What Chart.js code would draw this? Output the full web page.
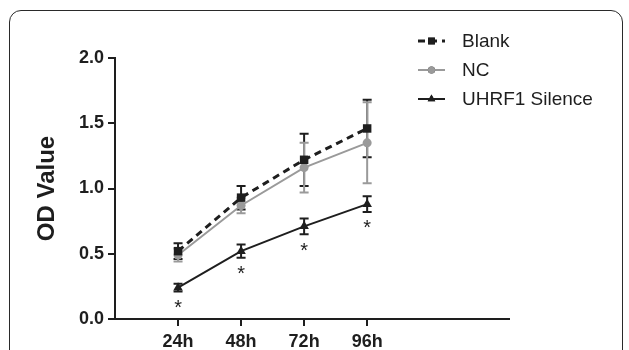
<!DOCTYPE html>
<html>
<head>
<meta charset="utf-8">
<script src="https://cdn.jsdelivr.net/npm/chart.js@4/dist/chart.umd.min.js"></script>
<style>
  html, body { margin: 0; padding: 0; background: #fff; overflow: hidden; }
  #wrap { position: relative; width: 629px; height: 350px; }
  #frame {
    position: absolute; left: 9px; top: 10px; width: 614px; height: 420px;
    border: 1.5px solid #2a2a2a; border-radius: 12px; box-sizing: border-box;
  }
  canvas { position: absolute; left: 0; top: 0; }
</style>
</head>
<body>
<div id="wrap">
  <div id="frame"></div>
  <canvas id="odChart" width="629" height="350"></canvas>
</div>
<script>
const hours = [24, 48, 72, 96];
const hourLabels = ["24h", "48h", "72h", "96h"];
const yTicks = [0, 0.5, 1.0, 1.5, 2.0];

const blankVals = [0.52, 0.93, 1.22, 1.46];
const blankErr = [0.06, 0.09, 0.20, 0.22];
const ncVals = [0.49, 0.87, 1.16, 1.35];
const ncErr = [0.05, 0.06, 0.19, 0.31];
const uhrf1Vals = [0.24, 0.52, 0.71, 0.88];
const uhrf1Err = [0.03, 0.05, 0.06, 0.06];
const uhrf1Sig = ["*", "*", "*", "*"];

const FONT = '"Liberation Sans", Arial, Helvetica, sans-serif';
const GRAY = "#9a9a9a";
const INK = "#1e1e1e";

function toPoints(vals) {
    return vals.map((v, i) => ({ x: hours[i], y: v }));
}

// error bars + significance stars, drawn from the scales
const errorBarPlugin = {
    id: "errorBars",
    beforeDatasetsDraw(chart) {
        const { ctx, scales: { x, y } } = chart;
        chart.data.datasets.forEach((ds) => {
            if (!ds.errors) return;
            ctx.save();
            ctx.strokeStyle = ds.errColor;
            ctx.lineWidth = 2;
            ds.data.forEach((p, i) => {
                const px = x.getPixelForValue(p.x);
                const top = y.getPixelForValue(p.y + ds.errors[i]);
                const bot = y.getPixelForValue(p.y - ds.errors[i]);
                ctx.beginPath();
                ctx.moveTo(px, top); ctx.lineTo(px, bot);
                ctx.moveTo(px - 4.5, top); ctx.lineTo(px + 4.5, top);
                ctx.moveTo(px - 4.5, bot); ctx.lineTo(px + 4.5, bot);
                ctx.stroke();
            });
            ctx.restore();
        });
    },
    afterDatasetsDraw(chart) {
        const { ctx, scales: { x, y } } = chart;
        const ds = chart.data.datasets[2];
        ctx.save();
        ctx.fillStyle = INK;
        ctx.font = "20px " + FONT;
        ctx.textAlign = "center";
        ctx.textBaseline = "alphabetic";
        ds.data.forEach((p, i) => {
            const px = x.getPixelForValue(p.x);
            const bot = y.getPixelForValue(p.y - ds.errors[i]);
            ctx.fillText(uhrf1Sig[i], px, bot + 11 + 11.5);
        });
        ctx.restore();
    },
    afterDraw(chart) {
        const { ctx } = chart;
        const x0 = 418, x1 = 445, tx = 462;
        const rowsY = [41, 70, 99];
        ctx.save();
        chart.data.datasets.forEach((ds, i) => {
            const cy = rowsY[i];
            ctx.strokeStyle = ds.borderColor;
            ctx.lineWidth = ds.borderWidth;
            ctx.setLineDash(ds.borderDash || []);
            ctx.beginPath();
            ctx.moveTo(x0, cy); ctx.lineTo(x1, cy);
            ctx.stroke();
            ctx.setLineDash([]);
            Chart.helpers.drawPoint(ctx, {
                pointStyle: ds.pointStyle, rotation: 0, borderWidth: 0,
                radius: ds.pointRadius * 0.8,
            }, (x0 + x1) / 2, cy);
            ctx.fillStyle = ds.pointBackgroundColor;
            ctx.fill();
            ctx.fillStyle = INK;
            ctx.font = "19px " + FONT;
            ctx.textAlign = "left";
            ctx.textBaseline = "middle";
            ctx.fillText(ds.label, tx, cy + 1);
        });
        ctx.restore();
    },
};

const ctx = document.getElementById("odChart").getContext("2d");
new Chart(ctx, {
    type: "line",
    data: {
        datasets: [
            {
                label: "Blank",
                data: toPoints(blankVals),
                errors: blankErr,
                errColor: INK,
                borderColor: INK,
                borderWidth: 3,
                borderDash: [7, 5],
                pointStyle: "rect",
                pointRadius: 6,
                pointBorderWidth: 0,
                pointBackgroundColor: INK,
                pointBorderColor: INK,
            },
            {
                label: "NC",
                data: toPoints(ncVals),
                errors: ncErr,
                errColor: GRAY,
                borderColor: GRAY,
                borderWidth: 2,
                pointStyle: "circle",
                pointRadius: 4.5,
                pointBorderWidth: 0,
                pointBackgroundColor: GRAY,
                pointBorderColor: GRAY,
            },
            {
                label: "UHRF1 Silence",
                data: toPoints(uhrf1Vals),
                errors: uhrf1Err,
                errColor: INK,
                borderColor: INK,
                borderWidth: 2,
                pointStyle: "triangle",
                pointRadius: 5.5,
                pointBorderWidth: 0,
                pointBackgroundColor: INK,
                pointBorderColor: INK,
            },
        ],
    },
    options: {
        responsive: false,
        animation: false,
        events: [],
        layout: { padding: { top: 58, right: 120, left: 0, bottom: 0 } },
        plugins: { legend: { display: false }, tooltip: { enabled: false } },
        elements: { line: { tension: 0 } },
        scales: {
            x: {
                type: "linear",
                min: 0,
                max: 150,
                afterBuildTicks(scale) {
                    scale.ticks = hours.map(v => ({ value: v }));
                },
                afterFit(scale) { scale.height = 31; },
                border: { display: true, color: INK, width: 2 },
                grid: { display: true, drawOnChartArea: false, drawTicks: true, tickLength: 7, color: INK, lineWidth: 2 },
                ticks: {
                    color: INK,
                    padding: 5,
                    maxRotation: 0,
                    autoSkip: false,
                    font: { family: FONT, size: 18, weight: "bold" },
                    callback: (v) => hourLabels[hours.indexOf(v)] || "",
                },
            },
            y: {
                min: 0,
                max: 2,
                afterBuildTicks(scale) {
                    scale.ticks = yTicks.map(v => ({ value: v }));
                },
                afterFit(scale) { scale.width = 115; },
                border: { display: true, color: INK, width: 2 },
                grid: { display: true, drawOnChartArea: false, drawTicks: true, tickLength: 7, color: INK, lineWidth: 2 },
                ticks: {
                    color: INK,
                    padding: 4,
                    font: { family: FONT, size: 18, weight: "bold" },
                    callback: (v) => Number(v).toFixed(1),
                },
                title: {
                    display: true,
                    text: "OD Value",
                    color: INK,
                    padding: { top: 33, bottom: 0 },
                    font: { family: FONT, size: 24, weight: "bold" },
                },
            },
        },
    },
    plugins: [errorBarPlugin],
});
</script>
</body>
</html>
